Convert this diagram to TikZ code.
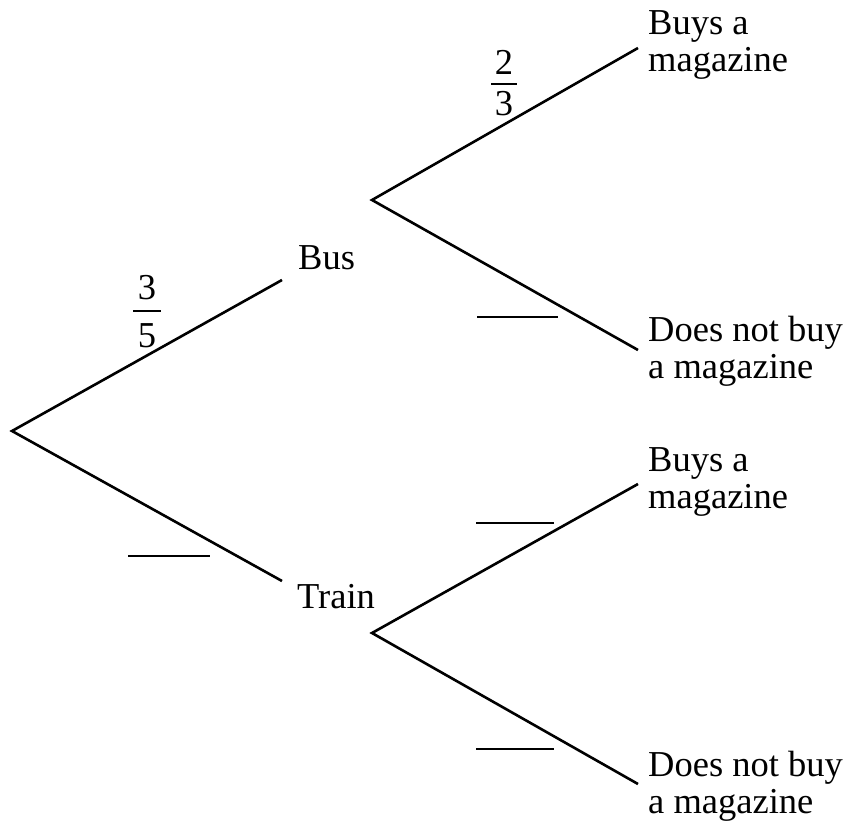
\documentclass[tikz,border=0pt]{standalone}
\usepackage{fontspec}
\setmainfont{Liberation Serif}
\begin{document}
\begin{tikzpicture}[x=1pt,y=-1pt,
  branch/.style={line width=2.6pt},
  blank/.style={line width=2.2pt},
  lbl/.style={inner sep=0pt, anchor=base west, align=left, font=\fontsize{36.5}{37}\selectfont},
  fracdigit/.style={inner sep=0pt, anchor=base, font=\fontsize{36.5}{37}\selectfont}]
\useasboundingbox (0,0) rectangle (847,821);
% tree points
\coordinate (root) at (12,431);
\coordinate (busE) at (282,280);
\coordinate (trainE) at (282,581);
\coordinate (busN) at (372,200);
\coordinate (trainN) at (372,633);
\coordinate (bbE) at (638,48);
\coordinate (bnE) at (638,350);
\coordinate (tbE) at (638,484);
\coordinate (tnE) at (638,784);
% labels (base anchor = baseline of last line)
\node[lbl] (bus) at (298,270) {Bus};
\node[lbl] (train) at (297,608) {Train};
\node[lbl] (bb) at (648,72) {Buys a\\magazine};
\node[lbl] (bn) at (648,378) {Does not buy\\a magazine};
\node[lbl] (tb) at (648,508) {Buys a\\magazine};
\node[lbl] (tn) at (648,813) {Does not buy\\a magazine};
% branches
\draw[branch] (busE) -- (root) -- (trainE);
\draw[branch] (bbE) -- (busN) -- (bnE);
\draw[branch] (tbE) -- (trainN) -- (tnE);
% fractions
\node[fracdigit] (n1) at (147,300) {3};
\node[fracdigit] (d1) at (147,348) {5};
\coordinate (f1a) at (133,311);
\coordinate (f1b) at (161,311);
\draw[blank] (f1a) -- (f1b);
\node[fracdigit] (n2) at (504,75) {2};
\node[fracdigit] (d2) at (504,116) {3};
\coordinate (f2a) at (491,84);
\coordinate (f2b) at (517,84);
\draw[blank] (f2a) -- (f2b);
% blanks
\coordinate (k1a) at (128,556); \coordinate (k1b) at (210,556);
\coordinate (k2a) at (477,317); \coordinate (k2b) at (558,317);
\coordinate (k3a) at (476,523); \coordinate (k3b) at (554,523);
\coordinate (k4a) at (476,749); \coordinate (k4b) at (554,749);
\draw[blank] (k1a) -- (k1b);
\draw[blank] (k2a) -- (k2b);
\draw[blank] (k3a) -- (k3b);
\draw[blank] (k4a) -- (k4b);
\end{tikzpicture}
\end{document}
